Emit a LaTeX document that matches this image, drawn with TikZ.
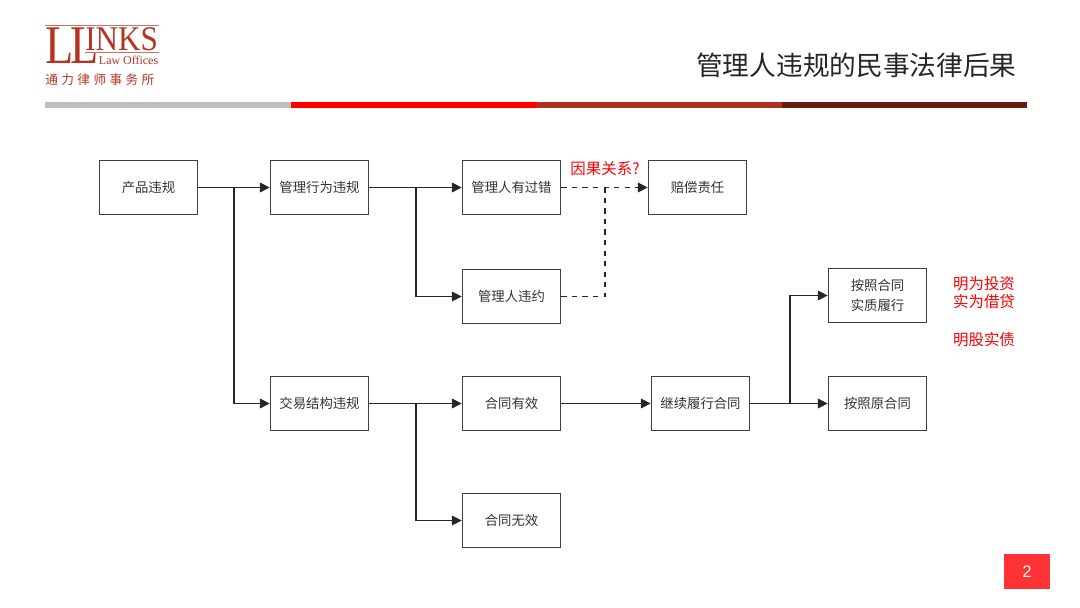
\documentclass[tikz,border=0pt]{standalone}
\usepackage{fontspec}
\setmainfont{Noto Sans CJK SC}
\newfontfamily\logoserif{Liberation Serif}
\newfontfamily\logocjk[LetterSpace=27]{Noto Sans CJK SC}
\newfontfamily\pagesans{Liberation Sans}
\usetikzlibrary{arrows.meta,positioning,calc}
\definecolor{logored}{HTML}{B8321F}
\definecolor{barred}{HTML}{FF0000}
\definecolor{barbrown}{HTML}{B03020}
\definecolor{bardark}{HTML}{6B1A10}
\definecolor{pagered}{HTML}{FF3333}
\tikzset{
  stepbox/.style={draw=black!75,line width=.7pt,minimum width=1.97cm,minimum height=1.09cm,
    inner sep=0pt,align=center,font=\fontsize{7.6}{11.5}\selectfont,text=black!80},
  flow/.style={draw=black!85,line width=.7pt,-{Triangle[length=5.5pt,width=5.5pt]}},
  branch/.style={draw=black!85,line width=.7pt},
  redtext/.style={text=red,inner sep=0pt,font=\fontsize{8.8}{10.2}\selectfont,align=center},
  logotext/.style={text=logored,inner sep=0pt},
}

\begin{document}
\begin{tikzpicture}[x=.02cm,y=-.02cm]
  \useasboundingbox (0,0) rectangle (1080,608);
  % logo
  \node[logotext,anchor=base west,xscale=.85,font=\logoserif\fontsize{31}{31}\selectfont] (logoa) at (45,63.5) {L};
  \node[logotext,anchor=base west,xscale=.85,font=\logoserif\fontsize{31}{31}\selectfont] (logob) at (70,63.5) {L};
  \node[logotext,anchor=base west,xscale=.9,font=\logoserif\fontsize{19.7}{20}\selectfont] (logoc) at (85,51) {INKS};
  \node[logotext,anchor=base east,font=\logoserif\fontsize{6.8}{7}\selectfont] (logod) at (158.5,64.5) {Law Offices};
  \node[logotext,anchor=west,font=\logocjk\fontsize{7.2}{8}\selectfont] (logoe) at (45,80) {通力律师事务所};
  \draw[logored!70,line width=.7pt] (45,25.5)--(158.5,25.5);
  \draw[logored!70,line width=.5pt] (85,52.5)--(158.5,52.5);
  % title and bar
  \node[anchor=east,inner sep=0pt,text=black!85,font=\fontsize{15.2}{18}\selectfont] (title) at (1017,65) {管理人违规的民事法律后果};
  \foreach \xa/\xb/\col in {45/291/black!25,291/537/barred,537/782/barbrown,782/1027/bardark}
    \fill[\col] (\xa,102) rectangle (\xb,108.5);
  % boxes
  \node[stepbox] (prod) at (148.5,187.5) {产品违规};
  \node[stepbox] (act) at (319.5,187.5) {管理行为违规};
  \node[stepbox] (fault) at (511.5,187.5) {管理人有过错};
  \node[stepbox] (duty) at (697.5,187.5) {赔偿责任};
  \node[stepbox] (breach) at (511.5,296.5) {管理人违约};
  \node[stepbox] (deal) at (319.5,403.5) {交易结构违规};
  \node[stepbox] (valid) at (511.5,403.5) {合同有效};
  \node[stepbox] (invalid) at (511.5,520.5) {合同无效};
  \node[stepbox] (keep) at (700.5,403.5) {继续履行合同};
  \node[stepbox] (real) at (877.5,295.5) {按照合同\\实质履行};
  \node[stepbox] (orig) at (877.5,403.5) {按照原合同};
  % junctions
  \coordinate (ja) at (234,187.5);
  \coordinate (jb) at (416,187.5);
  \coordinate (jc) at (605,187.5);
  \coordinate (jd) at (416,403.5);
  \coordinate (je) at (790,403.5);
  % connectors
  \draw[flow] (prod)--(act);
  \draw[flow] (ja)|-(deal);
  \draw[flow] (act)--(fault);
  \draw[flow] (jb)|-(breach);
  \draw[flow,dashed] (fault)--(duty);
  \draw[branch,dashed] (breach)-|(jc);
  \draw[flow] (deal)--(valid);
  \draw[flow] (jd)|-(invalid);
  \draw[flow] (valid)--(keep);
  \draw[flow] (keep)--(orig);
  \draw[flow] (je)|-(real);
  % red notes
  \node[redtext] (cause) at (605,169) {因果关系?};
  \node[redtext] (notea) at (984,293) {明为投资\\实为借贷};
  \node[redtext] (noteb) at (984,340) {明股实债};
  % page number
  \node[fill=pagered,text=white,minimum width=.92cm,minimum height=.7cm,inner sep=0pt,font=\pagesans\fontsize{9.5}{10}\selectfont] (page) at (1027,571.5) {2};
\end{tikzpicture}
\end{document}
